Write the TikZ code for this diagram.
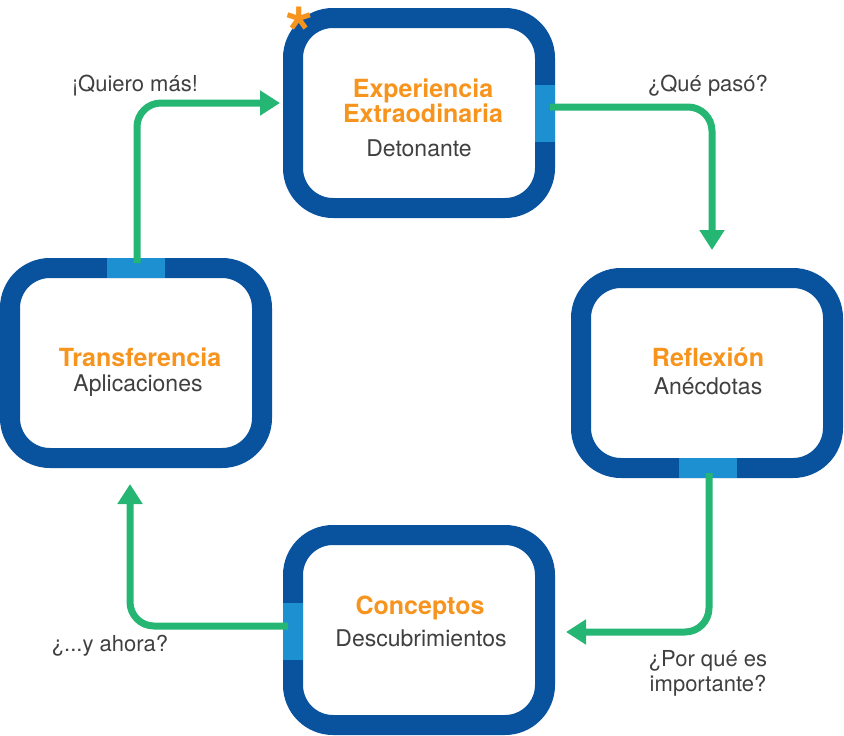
\documentclass[tikz,border=0pt]{standalone}
\usepackage{fontspec}
\setmainfont{TeX Gyre Heros}
\usetikzlibrary{arrows.meta,calc}
\definecolor{dblue}{RGB}{8,82,158}
\definecolor{lblue}{RGB}{28,144,208}
\definecolor{grn}{RGB}{38,182,116}
\definecolor{org}{RGB}{247,148,29}
\definecolor{gry}{RGB}{64,64,64}
\tikzset{
 box/.style={draw=dblue,line width=20pt,rounded corners=40pt,minimum width=252pt,minimum height=190pt,outer sep=0pt,fill=white},
 seg/.style={draw=lblue,line width=20pt},
 arr/.style={draw=grn,line width=7pt,rounded corners=24pt,-{Triangle[width=24pt,length=20pt]}},
 ttl/.style={text=org,font=\fontsize{25}{26}\selectfont\bfseries,align=center},
 sub/.style={text=gry,font=\fontsize{23}{26}\selectfont,align=center},
 lab/.style={text=gry,font=\fontsize{22}{25}\selectfont,align=center}
}
\begin{document}
\begin{tikzpicture}[x=1pt,y=-1pt]
\useasboundingbox (0,0) rectangle (844,736);
\node[box] (T) at (419,113) {};
\node[box] (R) at (707,373) {};
\node[box] (L) at (136,363) {};
\node[box] (B) at (419,630) {};
\draw[seg] ($(T.east)+(0,-28)$) -- ($(T.east)+(0,29)$);
\draw[seg] ($(L.north)+(-29,0)$) -- ($(L.north)+(29,0)$);
\draw[seg] ($(R.south)+(-28,0)$) -- ($(R.south)+(30,0)$);
\draw[seg] ($(B.west)+(0,-27)$) -- ($(B.west)+(0,30)$);
\coordinate (a1) at (712,250);
\coordinate (a2) at (566,632);
\coordinate (a3) at (130,484);
\coordinate (a4) at (280,103);
\draw[arr] ($(T.east)+(5,-6)$) -| (a1);
\draw[arr] ($(R.south)+(2,5)$) |- (a2);
\draw[arr] ($(B.west)+(-5,-4)$) -| (a3);
\draw[arr] ($(L.north)+(1,-5)$) |- (a4);
\node[ttl] (t1) at (423,101) {Experiencia\\[-1pt]Extraodinaria};
\node[sub] (s1) at (419,148) {Detonante};
\node[ttl] (t2) at (708,357) {Reflexión};
\node[sub] (s2) at (708,386) {Anécdotas};
\node[ttl] (t3) at (140,357) {Transferencia};
\node[sub] (s3) at (138,386) {Aplicaciones};
\node[ttl] (t4) at (420,608) {Conceptos};
\node[sub] (s4) at (421,638) {Descubrimientos};
\node[lab] (l1) at (135,86) {¡Quiero más!};
\node[lab] (l2) at (708,86) {¿Qué pasó?};
\node[lab] (l3) at (708,673) {¿Por qué es\\importante?};
\node[lab] (l4) at (110,646) {¿...y ahora?};
\node[text=org,font=\fontsize{72}{72}\selectfont\bfseries] (ast) at (300,33) {*};
\end{tikzpicture}
\end{document}
